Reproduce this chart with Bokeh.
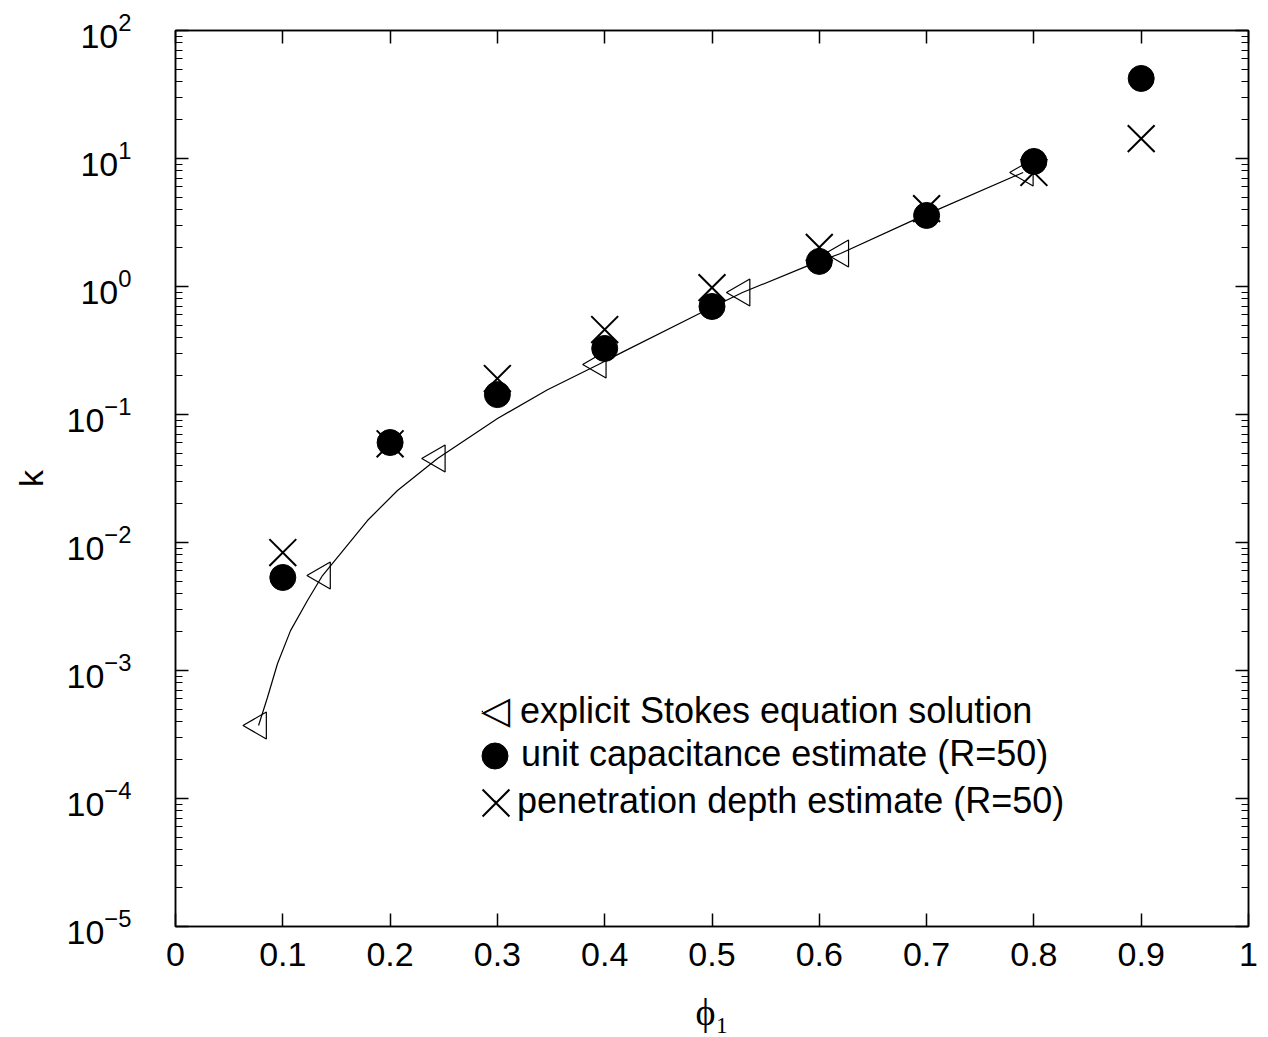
import math
from bokeh.plotting import figure
from bokeh.models import (Range1d, LinearAxis, LogAxis, FixedTicker,
                          CustomJSTickFormatter, Legend, LegendItem, Label)
from bokeh.embed import file_html
from bokeh.resources import INLINE

# explicit Stokes equation solution (open left-pointing triangles)
stokes_phi = [0.0774, 0.137, 0.244, 0.394, 0.528, 0.620, 0.792]
stokes_k = [3.72e-4, 5.52e-3, 0.0453, 0.246, 0.897, 1.81, 7.78]

# smooth curve drawn through the Stokes results
curve_phi = [0.0774, 0.0857, 0.0951, 0.1072, 0.1230, 0.137, 0.1538, 0.1789,
             0.2069, 0.2442, 0.3001, 0.3467, 0.3942, 0.4175, 0.4893, 0.5284,
             0.589, 0.6198, 0.6878, 0.790]
curve_k = [3.72e-4, 6.15e-4, 1.135e-3, 2.05e-3, 3.52e-3, 5.52e-3, 8.2e-3,
           0.01485, 0.0255, 0.0453, 0.0931, 0.156, 0.246, 0.31, 0.62,
           0.897, 1.45, 1.81, 3.3, 7.78]

# estimates at R=50
est_phi = [0.1, 0.2, 0.3, 0.4, 0.5, 0.6, 0.7, 0.8, 0.9]
unit_cap_k = [5.33e-3, 0.0604, 0.143, 0.328, 0.698, 1.57, 3.59, 9.48, 42.2]
pen_depth_k = [8.35e-3, 0.059, 0.191, 0.461, 0.98, 2.02, 4.06, 7.78, 14.3]

x_ticks = [0, 0.1, 0.2, 0.3, 0.4, 0.5, 0.6, 0.7, 0.8, 0.9, 1.0]
y_exponents = [-5, -4, -3, -2, -1, 0, 1, 2]
y_ticks = [10.0 ** e for e in y_exponents]
y_minor = [m * 10.0 ** e for e in y_exponents[:-1] for m in range(2, 10)]

labels = ["explicit Stokes equation solution",
          "unit capacitance estimate (R=50)",
          "penetration depth estimate (R=50)"]

FONT = "Liberation Sans"
FS = "34px"
LFS = "36px"

p = figure(width=1258, height=1035,
           x_range=Range1d(0, 1), y_range=Range1d(1e-5, 1e2),
           y_axis_type="log", output_backend="svg", toolbar_location=None,
           min_border_left=175, min_border_right=10,
           min_border_top=30, min_border_bottom=100)
p.xgrid.visible = False
p.ygrid.visible = False
p.outline_line_color = "black"
p.outline_line_width = 1.5
p.background_fill_color = "white"
p.border_fill_color = "white"

xfmt = CustomJSTickFormatter(code="return String(Number(tick.toFixed(2)));")
blank = CustomJSTickFormatter(code="return '';")


def style_axis(ax, minor):
    ax.axis_line_color = "black"
    ax.axis_line_width = 1.5
    ax.major_tick_line_color = "black"
    ax.major_tick_line_width = 1.5
    ax.major_tick_in = 13
    ax.major_tick_out = 0
    if minor:
        ax.minor_tick_line_color = "black"
        ax.minor_tick_line_width = 1.2
        ax.minor_tick_in = 7
        ax.minor_tick_out = 0
    else:
        ax.minor_tick_line_color = None
    ax.major_label_text_font = FONT
    ax.major_label_text_font_size = FS
    ax.major_label_text_color = "black"


# bottom x axis
xa = p.xaxis[0]
xa.ticker = FixedTicker(ticks=x_ticks)
xa.formatter = xfmt
style_axis(xa, False)
xa.major_label_standoff = 16
xa.axis_label = "ϕ₁"
xa.axis_label_text_font = "Liberation Serif"
xa.axis_label_text_font_size = "38px"
xa.axis_label_text_font_style = "normal"
xa.axis_label_text_color = "black"
xa.axis_label_standoff = 22

# left y axis
ya = p.yaxis[0]
ya.ticker = FixedTicker(ticks=y_ticks, minor_ticks=y_minor)
style_axis(ya, True)
ya.major_label_standoff = 44
ya.axis_label = "k"
ya.axis_label_text_font = FONT
ya.axis_label_text_font_size = FS
ya.axis_label_text_font_style = "normal"
ya.axis_label_text_color = "black"
ya.axis_label_standoff = 14

# mirrored axes (ticks only)
top = LinearAxis(ticker=FixedTicker(ticks=x_ticks), formatter=blank)
style_axis(top, False)
p.add_layout(top, "above")
right = LogAxis(ticker=FixedTicker(ticks=y_ticks, minor_ticks=y_minor), formatter=blank)
style_axis(right, True)
p.add_layout(right, "right")

# data
p.line(curve_phi, curve_k, line_color="black", line_width=1.2)
r_tri = p.scatter(stokes_phi, stokes_k, marker="triangle", angle=math.pi / 2,
                  size=27, fill_color=None, line_color="black", line_width=1.2)
r_cir = p.scatter(est_phi, unit_cap_k, marker="circle", size=26,
                  fill_color="black", line_color="black")
r_x = p.scatter(est_phi, pen_depth_k, marker="x", size=38,
                line_color="black", line_width=2)


def add_legend(label, rend, box, loc, standoff, label_height=40):
    lg = Legend(items=[LegendItem(label=label, renderers=[rend])],
                location=loc, glyph_width=box, glyph_height=box,
                label_standoff=standoff, label_height=label_height,
                padding=0, margin=0, spacing=0,
                border_line_color=None, background_fill_alpha=0,
                label_text_font=FONT, label_text_font_size=LFS,
                label_text_color="black")
    p.add_layout(lg, "center")


# legend texts (tiny glyph boxes hidden under the key markers)
add_legend(labels[0], r_tri, 2, (306, 194), 37)
add_legend(labels[1], r_cir, 2, (318, 151), 26)
add_legend(labels[2], r_x, 2, (319, 104), 21)
# legend key markers at full size
add_legend(" ", r_cir, 65, (286.5, 138.5), 0)
add_legend(" ", r_x, 95, (272.5, 76.5), 0)
# left-pointing open triangle key (legend keys ignore marker angle)
p.add_layout(Label(x=320, y=217, x_units="screen", y_units="screen", text="◁",
                   text_font="DejaVu Sans", text_font_size="38px",
                   text_align="center", text_baseline="middle",
                   text_color="black"))

open("out.html", "w").write(file_html(p, INLINE))
